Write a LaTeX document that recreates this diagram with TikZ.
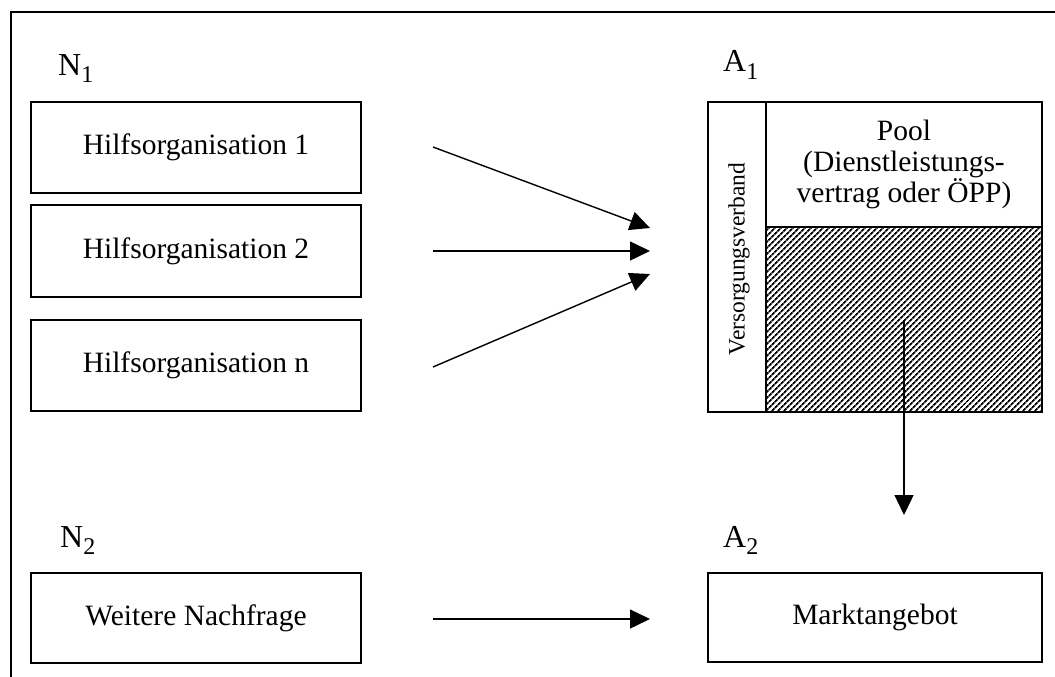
\documentclass[tikz,border=0pt]{standalone}
\usepackage{fontspec}
\setmainfont{Liberation Serif}
\usetikzlibrary{arrows.meta,patterns.meta}
\newcommand{\lbl}[2]{#1\raisebox{-7pt}{\fontsize{24}{24}\selectfont #2}}
\tikzset{
  box/.style={draw, line width=1.3pt, inner sep=0pt, font=\fontsize{29.5}{31}\selectfont},
  lab/.style={anchor=base west, inner sep=0pt, font=\fontsize{32}{34}\selectfont},
  arr/.style={line width=1.4pt, -{Triangle[length=20pt,width=19pt]}},
}
\begin{document}
\begin{tikzpicture}[x=1pt,y=-1pt]
\useasboundingbox (0,0) rectangle (1055,677);
\draw[line width=1.7pt] (1055,12) -- (11,12) -- (11,677);

\node[lab] (n1) at (58,75) {\lbl{N}{1}};
\node[lab] (a1) at (723,72) {\lbl{A}{1}};
\node[lab] (n2) at (60,547) {\lbl{N}{2}};
\node[lab] (a2) at (723,547) {\lbl{A}{2}};

\node[box, minimum width=330pt, minimum height=91pt] (h1) at (196,147.5) {Hilfsorganisation 1};
\node[box, minimum width=330pt, minimum height=92pt] (h2) at (196,251) {Hilfsorganisation 2};
\node[box, minimum width=330pt, minimum height=91pt] (hn) at (196,365.5) {Hilfsorganisation n};
\node[box, minimum width=330pt, minimum height=90pt] (wn) at (196,618) {Weitere Nachfrage};

\node[box, pattern={Lines[angle=45,distance=4pt,line width=1.9pt]}, minimum width=276pt, minimum height=185pt] (hatch) at (904,319.5) {};
\node[box, minimum width=276pt, minimum height=125pt, align=center] (pool) at (904,164.5) {Pool\\(Dienstleistungs-\\vertrag oder ÖPP)};
\node[box, minimum width=58pt, minimum height=310pt] (vv) at (737,257) {};
\node[rotate=90, inner sep=0pt, font=\fontsize{23.5}{24}\selectfont] (vvt) at (739,259) {Versorgungsverband};
\node[box, minimum width=334pt, minimum height=89pt] (ma) at (875,617.5) {Marktangebot};

\coordinate (s1) at (433,147);
\coordinate (e1) at (650,228);
\coordinate (s2) at (433,251);
\coordinate (e2) at (650,251);
\coordinate (s3) at (433,367);
\coordinate (e3) at (650,274);
\coordinate (s4) at (433,619);
\coordinate (e4) at (650,619);
\coordinate (t) at (904,515);

\draw[arr] (s1) -- (e1);
\draw[arr] (s2) -- (e2);
\draw[arr] (s3) -- (e3);
\draw[arr] (s4) -- (e4);
\draw[arr] (hatch.center) -- (t);
\end{tikzpicture}
\end{document}
